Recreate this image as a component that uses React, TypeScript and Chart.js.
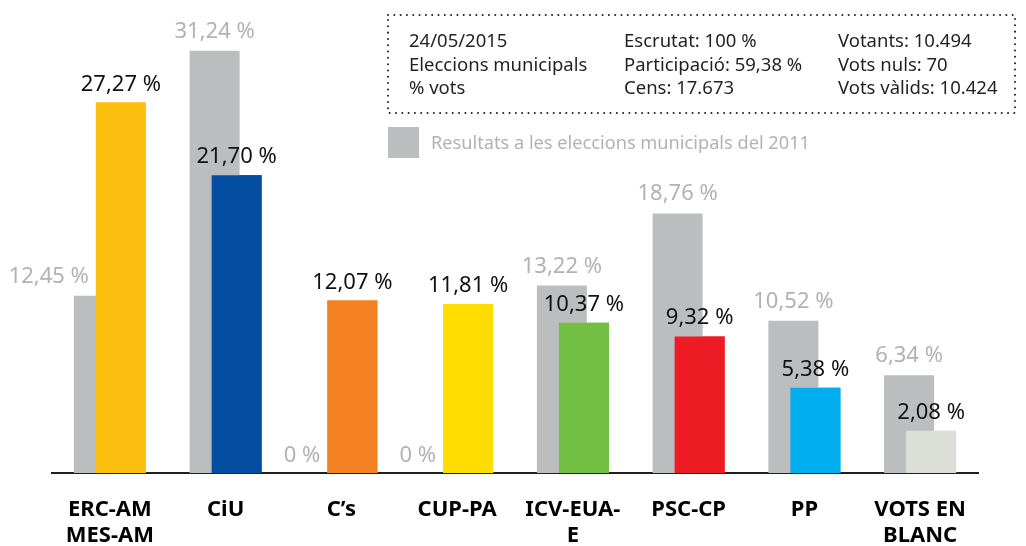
import { useEffect, useRef } from 'react';
import { Chart, registerables } from 'chart.js';

Chart.register(...registerables);

const FONT = "'Noto Sans', sans-serif";

const categories = [
  ['ERC-AM', 'MES-AM'],
  ['CiU'],
  ['C’s'],
  ['CUP-PA'],
  ['ICV-EUA-', 'E'],
  ['PSC-CP'],
  ['PP'],
  ['VOTS EN', 'BLANC'],
];
const results2011 = [12.45, 31.24, 0, 0, 13.22, 18.76, 10.52, 6.34];
const results2015 = [27.27, 21.7, 12.07, 11.81, 10.37, 9.32, 5.38, 2.08];
const partyColors = ['#fdc010', '#034ea2', '#f48223', '#ffdd00', '#72bf44', '#ed1c24', '#00aeef', '#dcdfd8'];
const label2011 = 'Resultats a les eleccions municipals del 2011';
const label2015 = 'Eleccions municipals 2015';
const infoCol1 = ['24/05/2015', 'Eleccions municipals', '% vots'];
const infoCol2 = ['Escrutat: 100 %', 'Participació: 59,38 %', 'Cens: 17.673'];
const infoCol3 = ['Votants: 10.494', 'Vots nuls: 70', 'Vots vàlids: 10.424'];

const GRAY_BAR = '#bcbdbf';
const GRAY_TEXT = '#b1b2b4';
const DARK = '#231f20';
const BASE = -1.16;

const fmt = (v: number) => (v === 0 ? '0' : v.toFixed(2).replace('.', ',')) + ' %';

const valueLabels = {
  id: 'valueLabels',
  afterDatasetsDraw(chart: any) {
    const ctx = chart.ctx;
    // 2015 bars are drawn again so that they lie over the 2011 bars
    const area = chart.chartArea;
    ctx.save();
    ctx.beginPath();
    ctx.rect(area.left, area.top, area.right - area.left, area.bottom - area.top);
    ctx.clip();
    chart.getDatasetMeta(1).controller.draw();
    ctx.restore();

    const g = chart.getDatasetMeta(0).data;
    const c = chart.getDatasetMeta(1).data;
    ctx.save();
    ctx.font = `22px ${FONT}`;
    ctx.textBaseline = 'alphabetic';
    results2015.forEach((v, i) => {
      const gb: any = g[i];
      const cb: any = c[i];
      const gv = results2011[i];
      ctx.fillStyle = '#111111';
      ctx.textAlign = 'center';
      ctx.fillText(fmt(v), cb.x, cb.y - 12);
      ctx.fillStyle = GRAY_TEXT;
      if (gv > v) {
        ctx.textAlign = 'center';
        ctx.fillText(fmt(gv), gb.x, gb.y - 13);
      } else {
        ctx.textAlign = 'right';
        const y = gv === 0 ? gb.base - 11 : gb.y - 13;
        ctx.fillText(fmt(gv), cb.x - cb.width / 2 - 7, y);
      }
    });
    ctx.restore();
  },
};

const infoBox = {
  id: 'infoBox',
  afterDraw(chart: any) {
    const ctx = chart.ctx;
    ctx.save();
    // dotted frame
    ctx.strokeStyle = DARK;
    ctx.lineWidth = 2;
    ctx.lineCap = 'round';
    ctx.setLineDash([0.01, 6.3]);
    ctx.strokeRect(388, 15, 627, 98);
    ctx.setLineDash([]);
    // text columns
    ctx.fillStyle = DARK;
    ctx.font = `18.5px ${FONT}`;
    ctx.textAlign = 'left';
    ctx.textBaseline = 'alphabetic';
    const cols: [string[], number][] = [
      [infoCol1, 409],
      [infoCol2, 624],
      [infoCol3, 838],
    ];
    cols.forEach(([lines, x]) => {
      lines.forEach((t, j) => ctx.fillText(t, x, 47 + j * 23.5));
    });
    // legend item for 2011
    const ds = chart.data.datasets[0];
    ctx.fillStyle = GRAY_BAR;
    ctx.fillRect(388, 127, 31, 31);
    ctx.fillStyle = GRAY_TEXT;
    ctx.font = `18.2px ${FONT}`;
    ctx.fillText(ds.label, 431, 149);
    ctx.restore();
  },
};

export default function App() {
  const ref = useRef<HTMLCanvasElement | null>(null);

  useEffect(() => {
    document.body.style.margin = '0';
    const canvas = ref.current;
    if (!canvas) return;
    const chart = new Chart(canvas, {
      type: 'bar',
      data: {
        labels: categories,
        datasets: [
          {
            label: label2011,
            data: results2011,
            backgroundColor: (ctx: any) => (ctx.raw === 0 ? 'rgba(0,0,0,0)' : GRAY_BAR),
            base: BASE,
          } as any,
          {
            label: label2015,
            data: results2015,
            backgroundColor: partyColors,
            base: BASE,
          } as any,
        ],
      },
      options: {
        animation: false,
        responsive: false,
        devicePixelRatio: 1,
        layout: { padding: { left: 52, right: 48, top: 40, bottom: 0 } },
        datasets: {
          bar: {
            categoryPercentage: 0.38,
            barPercentage: 2.273,
            borderWidth: 0,
          },
        },
        plugins: {
          legend: { display: false },
          tooltip: { enabled: false },
          title: { display: false },
        },
        scales: {
          x: {
            grid: { display: false, drawTicks: false },
            border: { display: true, color: DARK, width: 2 },
            ticks: {
              autoSkip: false,
              maxRotation: 0,
              padding: 24,
              color: '#000000',
              font: { family: FONT, size: 22, weight: 'bold', lineHeight: 1.17 },
            },
            afterFit: (scale: any) => {
              scale.height = 73;
            },
          },
          y: {
            display: false,
            min: BASE,
            max: 32.07,
          },
        },
      },
      plugins: [valueLabels, infoBox],
    } as any);
    return () => chart.destroy();
  }, []);

  return (
    <div style={{ width: 1026, height: 546 }}>
      <canvas ref={ref} width={1026} height={546} />
    </div>
  );
}
